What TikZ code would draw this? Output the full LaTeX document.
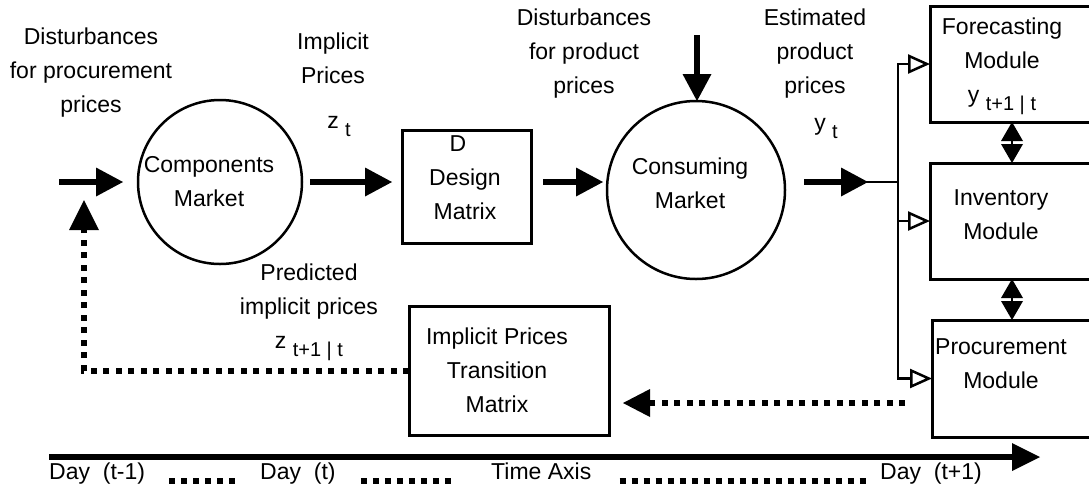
\documentclass[tikz,border=0pt]{standalone}
\usepackage{fontspec}
\setmainfont{Liberation Sans}
\usetikzlibrary{arrows.meta,calc}

% lowered, smaller index text (z t, y t+1 | t)
\newcommand{\lowsub}[1]{\raisebox{-8pt}{\fontsize{20}{20}\selectfont #1}}

\begin{document}
\begin{tikzpicture}[x=1pt,y=-1pt,
  txt/.style={font=\fontsize{23}{34}\selectfont, align=center, inner sep=0pt},
  box/.style={draw, line width=3pt, inner sep=0pt, outer sep=0pt},
  market/.style={draw, circle, line width=2.5pt, inner sep=0pt, outer sep=0pt},
  bigarrow/.style={line width=6pt, -{Triangle[length=27pt,width=29pt,line width=0pt]}},
  branch/.style={line width=2.5pt},
  openhead/.style={-{Triangle[length=22pt,width=19pt,fill=white]}},
  dbl/.style={line width=2pt, {Triangle[length=19pt,width=22pt,line width=0pt]}-{Triangle[length=19pt,width=22pt,line width=0pt]}},
  bigdots/.style={line width=6pt, dash pattern=on 6pt off 6.5pt},
  smalldots/.style={line width=6pt, dash pattern=on 6pt off 6pt}
]
\clip (0,0) rectangle (1089,491);

% markets and modules
\node[market, minimum size=164pt] (comp) at (220,182) {};
\node[txt] (compt) at (209,182) {Components\\Market};
\node[box, minimum width=129pt, minimum height=113pt] (design) at (466.5,186.5) {};
\node[txt] (designt) at (465,178) {\hspace*{-14pt}D\\Design\\Matrix};
\node[market, minimum size=178pt] (cons) at (696,190) {};
\node[txt] (const) at (690,183) {Consuming\\Market};
\node[box, minimum width=164pt, minimum height=116pt] (fore) at (1012,64) {};
\node[txt] (foret) at (1002,66) {Forecasting\\Module\\y \lowsub{t+1 | t}};
\node[box, minimum width=164pt, minimum height=116pt] (inv) at (1012,221) {};
\node[txt] (invt) at (1001,215) {Inventory\\Module};
\node[box, minimum width=162pt, minimum height=117pt] (proc) at (1013,378.5) {};
\node[txt] (proct) at (1001,364) {Procurement\\Module};
\node[box, minimum width=200pt, minimum height=129pt] (trans) at (509,370.5) {};
\node[txt] (transt) at (497,370) {Implicit Prices\\Transition\\Matrix};

% signal labels
\node[txt] (lproc) at (91,73) {Disturbances\\for procurement\\prices};
\node[txt] (limpl) at (333,58) {Implicit\\Prices};
\node[txt] (lzt) at (339,126) {z \lowsub{t}};
\node[txt] (lprod) at (584,54) {Disturbances\\for product\\prices};
\node[txt] (lest) at (815,54) {Estimated\\product\\prices};
\node[txt] (lyt) at (826,128) {y \lowsub{t}};
\node[txt] (lpred) at (309,312) {Predicted\\implicit prices\\z \lowsub{t+1 | t}};

% time axis labels
\node[txt, anchor=base west] (d1) at (49,479) {Day\ \ (t-1)};
\node[txt, anchor=base west] (d2) at (260,479) {Day\ \ (t)};
\node[txt, anchor=base west] (d3) at (491,479) {Time Axis};
\node[txt, anchor=base west] (d4) at (880,479) {Day\ \ (t+1)};

% helper coordinates
\coordinate (row) at (0,182);
\coordinate (inp) at (59,182);
\coordinate (dtop) at (697,35);
\coordinate (j) at (898,182);
\coordinate (prow) at (0,403);
\coordinate (fb) at (84,200);
\coordinate (drow) at (0,481);
\coordinate (t0) at (49,457);
\coordinate (t1) at (1040,457);

% main flow
\draw[bigarrow, shorten >=15pt] (inp) -- (comp.west);
\draw[bigarrow, shorten <=8pt, shorten >=10pt] (comp.east) -- (design.west |- row);
\draw[bigarrow, shorten <=12pt, shorten >=4pt] (design.east |- row) -- (cons.west |- row);
\draw[bigarrow] (dtop) -- (dtop |- cons.north);
\draw[branch] (j) -- ++(-32,0);
\draw[bigarrow, shorten <=19pt, shorten >=30pt] (cons.east |- row) -- (j);

% distribution to the modules
\draw[branch, openhead] (j) |- (fore.west);
\draw[branch, openhead] (j) |- (inv.west);
\draw[branch, openhead] (j) |- (proc.west);
\draw[dbl] (fore.south) -- (inv.north);
\draw[dbl] (inv.south) -- (inv.south |- proc.north);

% feedback of predicted prices
\draw[bigdots, -{Triangle[length=27pt,width=28pt,line width=0pt]}, shorten <=27pt, shorten >=14pt]
  (proc.west |- prow) -- (trans.east |- prow);
\draw[bigdots, -{Triangle[length=30pt,width=30pt,line width=0pt]}] (trans.west) -| (fb);

% time axis
\draw[line width=6pt, -{Triangle[length=28pt,width=28pt,line width=0pt]}] (t0) -- (t1);
\draw[smalldots, shorten <=24pt, shorten >=25pt] (d1.east |- drow) -- (d2.west |- drow);
\draw[smalldots, shorten <=25pt, shorten >=35pt] (d2.east |- drow) -- (d3.west |- drow);
\draw[smalldots, shorten <=28pt, shorten >=14pt] (d3.east |- drow) -- (d4.west |- drow);
\end{tikzpicture}
\end{document}
